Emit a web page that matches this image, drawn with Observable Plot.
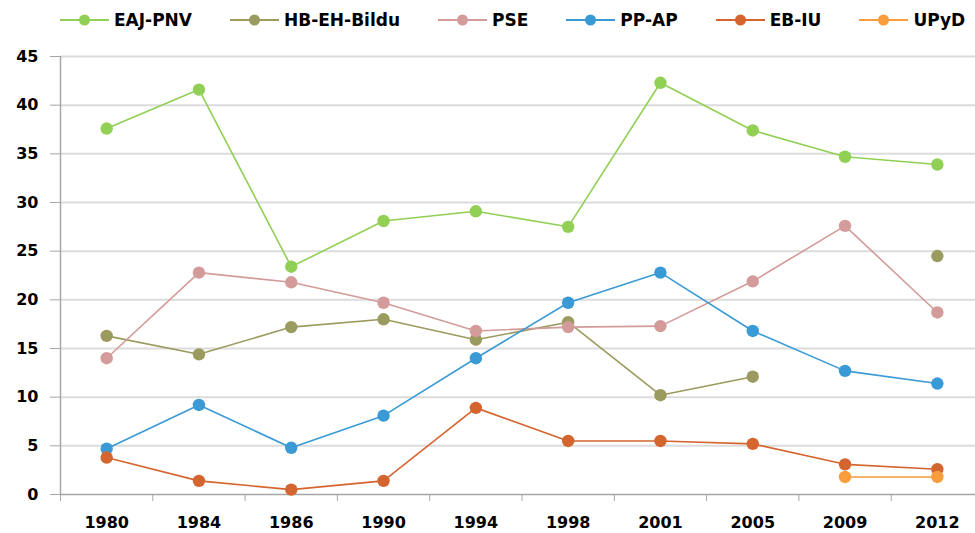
<!DOCTYPE html>
<html><head><meta charset="utf-8">
<script src="https://cdn.jsdelivr.net/npm/d3@7"></script>
<script src="https://cdn.jsdelivr.net/npm/@observablehq/plot@0.6"></script>
<style>
body{margin:0;background:#fff;font-family:"DejaVu Sans",sans-serif;}
#legend{height:40px;display:flex;align-items:center;padding-left:60px;box-sizing:border-box;}
.item{display:flex;align-items:center;margin-right:38px;font-weight:bold;font-size:17px;color:#000;white-space:nowrap;}
.item svg{margin-right:5px;display:block;}
#chart svg{display:block;}
</style></head><body>
<div id="legend"></div><div id="chart"></div>
<script>
const years = ["1980","1984","1986","1990","1994","1998","2001","2005","2009","2012"];
const seriesNames = ["EAJ-PNV","HB-EH-Bildu","PSE","PP-AP","EB-IU","UPyD"];
const seriesColors = ["#92cf55","#9b9a5f","#d39b9a","#3a9ad6","#d5652f","#f89c3c"];
const eaj  = [37.6, 41.6, 23.4, 28.1, 29.1, 27.5, 42.3, 37.4, 34.7, 33.9];
const hb   = [16.3, 14.4, 17.2, 18.0, 15.9, 17.7, 10.2, 12.1, null, 24.5];
const pse  = [14.0, 22.8, 21.8, 19.7, 16.8, 17.2, 17.3, 21.9, 27.6, 18.7];
const pp   = [4.7, 9.2, 4.8, 8.1, 14.0, 19.7, 22.8, 16.8, 12.7, 11.4];
const eb   = [3.8, 1.4, 0.5, 1.4, 8.9, 5.5, 5.5, 5.2, 3.1, 2.6];
const upyd = [null, null, null, null, null, null, null, null, 1.8, 1.8];
const yTicks = [0, 5, 10, 15, 20, 25, 30, 35, 40, 45];

const seriesValues = [eaj, hb, pse, pp, eb, upyd];
const gray = "#a6a6a6";

// legend
const legend = document.getElementById("legend");
seriesNames.forEach((name, k) => {
  const item = document.createElement("div");
  item.className = "item";
  item.innerHTML = `<svg width="49" height="14"><line x1="0" x2="49" y1="7" y2="7" stroke="${seriesColors[k]}" stroke-width="2"/><circle cx="24.5" cy="7" r="5.5" fill="${seriesColors[k]}"/></svg><span>${name}</span>`;
  legend.appendChild(item);
});

const marks = [
  Plot.gridY(yTicks.filter(d => d > 0), {stroke: "#dcdcdc", strokeOpacity: 1, strokeWidth: 2}),
  Plot.ruleX([-0.5], {stroke: gray, strokeWidth: 1.5}),
  Plot.ruleY([0], {stroke: gray, strokeWidth: 1.5}),
  Plot.axisY(yTicks, {tickSize: 10, tickPadding: 12, label: null, stroke: gray, fill: "#000"}),
  Plot.axisX(d3.range(-0.5, years.length + 0.5, 1), {tickSize: 7, tickFormat: () => "", label: null, stroke: gray}),
  Plot.axisX(d3.range(years.length), {tickSize: 0, tickPadding: 22, tickFormat: i => years[i], label: null, fill: "#000"})
];
seriesValues.forEach((vals, k) => {
  const rows = vals.map((v, i) => ({i, v}));
  marks.push(Plot.line(rows, {x: "i", y: "v", stroke: seriesColors[k], strokeWidth: 1.6}));
  marks.push(Plot.dot(rows.filter(d => d.v != null), {x: "i", y: "v", fill: seriesColors[k], r: 6.2}));
});

const chart = Plot.plot({
  width: 975,
  height: 493,
  marginTop: 16,
  marginBottom: 39,
  marginLeft: 60,
  marginRight: 0,
  x: {domain: [-0.5, years.length - 0.5], range: [60, 983]},
  y: {domain: [0, 45]},
  style: {fontFamily: "DejaVu Sans", fontSize: "16px", fontWeight: "bold", color: "#000", background: "#fff"},
  marks
});
document.getElementById("chart").appendChild(chart);
</script></body></html>
